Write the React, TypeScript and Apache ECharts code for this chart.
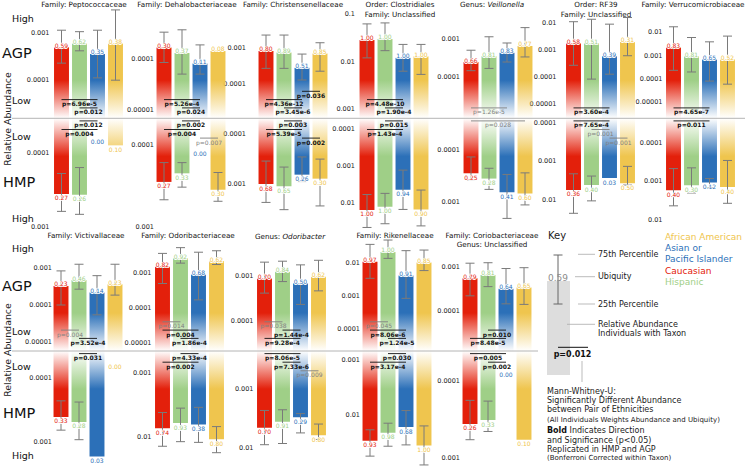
import React, { useEffect, useRef } from "react";
import * as echarts from "echarts";

const FONT = "DejaVu Sans";

const groups = ["Caucasian", "Hispanic", "Asian or Pacific Islander", "African American"];
const groupColors = ["#e3200b", "#9fcf87", "#2c70b8", "#efc54e"];

const titles: string[][] = [
  ["Family: Peptococcaceae"],
  ["Family: Dehalobacteriaceae"],
  ["Family: Christensenellaceae"],
  ["Order: Clostridiales", "Family: Unclassified"],
  ["Genus: Veillonella"],
  ["Order: RF39", "Family: Unclassified"],
  ["Family: Verrucomicrobiaceae"],
  ["Family: Victivallaceae"],
  ["Family: Odoribacteriaceae"],
  ["Genus: Odoribacter"],
  ["Family: Rikenellaceae"],
  ["Family: Coriobacteriaceae", "Genus: Unclassified"],
];

// AGP cohort (median, 25th, 75th percentile relative abundance, ubiquity)
const agpMedian = [
  [5.0e-4, 6.0e-4, 3.6e-4, 6.0e-4],
  [1.74e-4, 1.35e-4, 8.3e-5, 1.48e-4],
  [8.5e-4, 7.6e-4, 2.8e-4, 7.2e-4],
  [2.86e-2, 3.0e-2, 1.2e-2, 1.29e-2],
  [2.5e-4, 3.55e-4, 4.4e-4, 6.6e-4],
  [1.78e-3, 1.78e-3, 6.0e-4, 2.0e-3],
  [2.2e-3, 9.3e-4, 6.8e-4, 6.8e-4],
  [3.3e-4, 4.8e-4, 2.2e-4, 3.7e-4],
  [1.55e-3, 2.7e-3, 9.3e-4, 2.24e-3],
  [8.7e-4, 1.23e-3, 6.8e-4, 9.5e-4],
  [1.07e-2, 2.1e-2, 4.1e-3, 1.02e-2],
  [5.5e-4, 6.5e-4, 3.2e-4, 3.4e-4],
];
const agpQ25 = [
  [2.3e-4, 4.2e-4, 1.12e-4, 1.0e-4],
  [8.7e-5, 5.1e-5, 5.1e-5, null],
  [2.7e-4, 2.7e-4, 1.26e-4, 2.24e-4],
  [1.2e-2, 1.7e-2, 6.3e-3, 5.4e-3],
  [1.48e-4, 1.7e-4, 2.5e-4, 3.4e-4],
  [2.75e-4, 8.5e-5, 1.29e-4, 6.2e-4],
  [2.3e-4, 1.95e-4, 7.9e-5, 5.8e-5],
  [1.0e-4, 2.7e-4, 5.4e-5, 1.86e-4],
  [5.1e-4, 1.95e-3, 1.74e-4, 1.78e-3],
  [4.1e-4, 7.4e-4, 2.3e-4, 4.6e-4],
  [3.4e-3, 1.35e-2, 8.5e-4, 5.8e-3],
  [2.2e-4, 3.55e-4, 1.45e-4, 1.41e-4],
];
const agpQ75 = [
  [1.15e-3, 1.07e-3, 1.15e-3, 3.1e-3],
  [3.5e-4, 3.9e-4, 1.95e-4, null],
  [2.4e-3, 2.4e-3, 6.9e-4, 1.45e-3],
  [6.2e-2, 6.5e-2, 2.3e-2, 2.3e-2],
  [5.1e-4, 1.15e-3, 7.9e-4, 2.0e-3],
  [1.12e-2, 1.38e-2, 9.1e-3, 1.6e-2],
  [1.74e-2, 6.0e-3, 3.9e-3, 6.9e-3],
  [8.5e-4, 1.29e-3, 6.3e-4, 1.29e-3],
  [3.7e-3, 5.4e-3, 4.0e-3, 4.4e-3],
  [2.0e-3, 2.1e-3, 1.74e-3, 2.2e-3],
  [3.55e-2, 4.8e-2, 2.3e-2, 2.4e-2],
  [1.2e-3, 1.23e-3, 9.1e-4, 9.5e-4],
];
const agpUbiquity = [
  [0.59, 0.62, 0.35, 0.38],
  [0.30, 0.37, 0.11, 0.08],
  [0.80, 0.89, 0.51, 0.85],
  [1.00, 1.00, 1.00, 1.00],
  [0.66, 0.81, 0.83, 0.77],
  [0.58, 0.51, 0.39, 0.31],
  [0.83, 0.81, 0.65, 0.52],
  [0.23, 0.46, 0.14, 0.23],
  [0.82, 0.92, 0.68, 0.62],
  [0.70, 0.84, 0.50, 0.62],
  [0.97, 1.00, 0.91, 0.85],
  [0.79, 0.81, 0.64, 0.65],
];

// HMP cohort
const hmpMedian = [
  [3.6e-4, 3.7e-4, 0, 7.9e-5],
  [2.85e-4, 2.24e-4, 0, 3.55e-4],
  [1.0e-3, 1.1e-3, 6.5e-4, 7.8e-4],
  [1.5e-2, 1.23e-2, 4.3e-3, 1.45e-2],
  [2.8e-4, 3.55e-4, 6.5e-4, 6.9e-4],
  [5.5e-3, 4.1e-3, 2.7e-3, 3.7e-3],
  [1.7e-3, 1.26e-3, 1.07e-3, 1.41e-3],
  [4.1e-4, 4.9e-4, 1.7e-3, 0],
  [7.2e-3, 6.0e-3, 6.3e-3, 1.07e-2],
  [4.5e-3, 3.55e-3, 3.0e-3, 6.0e-3],
  [2.95e-2, 2.1e-2, 1.66e-2, 3.6e-2],
  [3.6e-4, 3.2e-4, 0, 5.75e-4],
];
const hmpQ25 = [
  [1.9e-4, 1.58e-4, null, null],
  [1.66e-4, 1.66e-4, null, 2.19e-4],
  [3.5e-4, 4.6e-4, 2.9e-4, 3.2e-4],
  [5.8e-3, 5.4e-3, 1.29e-3, 4.4e-3],
  [1.35e-4, 2.24e-4, 2.95e-4, 2.75e-4],
  [2.1e-3, 2.4e-3, null, 1.35e-3],
  [4.7e-4, 4.5e-4, 8.5e-4, 2.9e-4],
  [2.3e-4, 2.4e-4, null, null],
  [4.1e-3, 3.5e-3, 3.4e-3, 6.8e-3],
  [2.3e-3, 2.24e-3, 2.6e-3, 3.9e-3],
  [1.86e-2, 1.41e-2, 8.3e-3, 1.58e-2],
  [1.78e-4, 1.82e-4, null, null],
];
const hmpQ75 = [
  [6.2e-4, 6.8e-4, null, null],
  [4.7e-4, 3.3e-4, null, 4.9e-4],
  [2.3e-3, 3.2e-3, 8.9e-4, 2.7e-3],
  [4.4e-2, 3.5e-2, 1.45e-2, 4.0e-2],
  [3.8e-4, 5.75e-4, 2.1e-3, 1.15e-3],
  [2.2e-2, 1.05e-2, null, 4.1e-3],
  [4.3e-3, 2.0e-3, 1.45e-3, 3.7e-3],
  [6.6e-4, 9.3e-4, null, null],
  [1.38e-2, 1.17e-2, 1.2e-2, 1.74e-2],
  [8.7e-3, 8.3e-3, 5.5e-3, 7.1e-3],
  [5.6e-2, 3.7e-2, 3.5e-2, 8.1e-2],
  [5.75e-4, 4.5e-4, null, null],
];
const hmpUbiquity = [
  [0.27, 0.26, 0.00, 0.10],
  [0.27, 0.33, 0.00, 0.30],
  [0.68, 0.65, 0.26, 0.30],
  [1.00, 1.00, 0.94, 0.90],
  [0.25, 0.28, 0.41, 0.60],
  [0.36, 0.40, 0.03, 0.50],
  [0.40, 0.30, 0.12, 0.40],
  [0.33, 0.28, 0.03, 0.00],
  [0.74, 0.93, 0.38, 0.80],
  [0.70, 0.91, 0.29, 0.80],
  [0.93, 0.98, 0.68, 1.00],
  [0.26, 0.33, 0.00, 0.10],
];

// Log-axis extents (exponents) and tick labels per panel
const agpRange = [
  [-4.809, -2.468], [-5.174, -2.974], [-4.991, -1.849], [-3.189, -0.874], [-5.079, -2.184], [-5.519, -1.444], [-5.71, -0.948],
  [-5.253, -2.229], [-5.22, -2.049], [-4.673, -2.207], [-4.652, -1.318], [-4.903, -2.397],
];
const hmpRange = [
  [-4.469, -2.928], [-4.319, -2.936], [-4.302, -2.053], [-4.275, -1.235], [-4.619, -2.414], [-4.111, -1.175], [-4.626, -1.691],
  [-4.417, -2.683], [-3.349, -1.614], [-3.641, -1.769], [-3.164, -1.145], [-4.388, -2.952],
];
const agpTicks = [
  [1e-3, 1e-4], [1e-4, 1e-5], [1e-3, 1e-4], [1e-1, 1e-2, 1e-3], [1e-3, 1e-4], [1e-2, 1e-3, 1e-4, 1e-5], [1e-2, 1e-3, 1e-4, 1e-5],
  [1e-3, 1e-4, 1e-5], [1e-3, 1e-4, 1e-5], [1e-3, 1e-4], [1e-2, 1e-3, 1e-4], [1e-3, 1e-4],
];
const hmpTicks = [
  [1e-4, 1e-3], [1e-4, 1e-3], [1e-4, 1e-3], [1e-4, 1e-3, 1e-2], [1e-4, 1e-3], [1e-4, 1e-3, 1e-2], [1e-4, 1e-3, 1e-2],
  [1e-4, 1e-3], [1e-3, 1e-2], [1e-3, 1e-2], [1e-3, 1e-2], [1e-4, 1e-3],
];

type Ann = { panel: number; cohort: "agp" | "hmp"; a: number; b: number; p: string; bold: boolean; level: number };
const pValues: Ann[] = [
  { panel: 0, cohort: "agp", a: 0, b: 2, p: "p=6.96e-5", bold: true, level: 1 },
  { panel: 0, cohort: "agp", a: 1, b: 2, p: "p=0.012", bold: true, level: 0 },
  { panel: 0, cohort: "hmp", a: 1, b: 2, p: "p=0.012", bold: true, level: 0 },
  { panel: 0, cohort: "hmp", a: 0, b: 2, p: "p=0.004", bold: true, level: 1 },
  { panel: 1, cohort: "agp", a: 0, b: 2, p: "p=5.26e-4", bold: true, level: 1 },
  { panel: 1, cohort: "agp", a: 1, b: 2, p: "p=0.024", bold: true, level: 0 },
  { panel: 1, cohort: "hmp", a: 1, b: 2, p: "p=0.002", bold: true, level: 0 },
  { panel: 1, cohort: "hmp", a: 0, b: 2, p: "p=0.004", bold: true, level: 1 },
  { panel: 1, cohort: "hmp", a: 2, b: 3, p: "p=0.007", bold: false, level: 2 },
  { panel: 2, cohort: "agp", a: 2, b: 3, p: "p=0.036", bold: true, level: 2 },
  { panel: 2, cohort: "agp", a: 0, b: 2, p: "p=4.36e-12", bold: true, level: 1 },
  { panel: 2, cohort: "agp", a: 1, b: 2, p: "p=3.45e-6", bold: true, level: 0 },
  { panel: 2, cohort: "hmp", a: 1, b: 2, p: "p=0.003", bold: true, level: 0 },
  { panel: 2, cohort: "hmp", a: 0, b: 2, p: "p=5.39e-5", bold: true, level: 1 },
  { panel: 2, cohort: "hmp", a: 2, b: 3, p: "p=0.002", bold: true, level: 2 },
  { panel: 3, cohort: "agp", a: 0, b: 2, p: "p=4.48e-10", bold: true, level: 1 },
  { panel: 3, cohort: "agp", a: 1, b: 2, p: "p=1.90e-4", bold: true, level: 0 },
  { panel: 3, cohort: "hmp", a: 1, b: 2, p: "p=0.015", bold: true, level: 0 },
  { panel: 3, cohort: "hmp", a: 0, b: 2, p: "p=1.43e-4", bold: true, level: 1 },
  { panel: 4, cohort: "agp", a: 0, b: 2, p: "p=1.26e-5", bold: false, level: 0 },
  { panel: 4, cohort: "hmp", a: 0, b: 3, p: "p=0.028", bold: false, level: 0 },
  { panel: 5, cohort: "agp", a: 0, b: 2, p: "p=3.60e-4", bold: true, level: 0 },
  { panel: 5, cohort: "hmp", a: 0, b: 2, p: "p=7.65e-4", bold: true, level: 0 },
  { panel: 5, cohort: "hmp", a: 1, b: 2, p: "p=0.001", bold: false, level: 1 },
  { panel: 5, cohort: "hmp", a: 2, b: 3, p: "p=0.001", bold: false, level: 2 },
  { panel: 6, cohort: "agp", a: 0, b: 2, p: "p=4.65e-7", bold: true, level: 0 },
  { panel: 6, cohort: "hmp", a: 0, b: 2, p: "p=0.011", bold: true, level: 0 },
  { panel: 7, cohort: "agp", a: 0, b: 1, p: "p=0.004", bold: false, level: 1 },
  { panel: 7, cohort: "agp", a: 1, b: 2, p: "p=3.52e-4", bold: true, level: 0 },
  { panel: 7, cohort: "hmp", a: 1, b: 2, p: "p=0.031", bold: true, level: 0 },
  { panel: 8, cohort: "agp", a: 0, b: 1, p: "p=0.014", bold: false, level: 2 },
  { panel: 8, cohort: "agp", a: 0, b: 2, p: "p=0.004", bold: true, level: 1 },
  { panel: 8, cohort: "agp", a: 1, b: 2, p: "p=1.86e-4", bold: true, level: 0 },
  { panel: 8, cohort: "hmp", a: 1, b: 2, p: "p=4.33e-4", bold: true, level: 0 },
  { panel: 8, cohort: "hmp", a: 0, b: 2, p: "p=0.002", bold: true, level: 1 },
  { panel: 9, cohort: "agp", a: 0, b: 1, p: "p=0.038", bold: false, level: 2 },
  { panel: 9, cohort: "agp", a: 1, b: 2, p: "p=1.44e-4", bold: true, level: 1 },
  { panel: 9, cohort: "agp", a: 0, b: 2, p: "p=9.28e-4", bold: true, level: 0 },
  { panel: 9, cohort: "hmp", a: 0, b: 2, p: "p=8.06e-5", bold: true, level: 0 },
  { panel: 9, cohort: "hmp", a: 1, b: 2, p: "p=7.33e-6", bold: true, level: 1 },
  { panel: 9, cohort: "hmp", a: 2, b: 3, p: "p=0.009", bold: false, level: 2 },
  { panel: 10, cohort: "agp", a: 0, b: 1, p: "p=0.045", bold: false, level: 2 },
  { panel: 10, cohort: "agp", a: 0, b: 2, p: "p=8.06e-6", bold: true, level: 1 },
  { panel: 10, cohort: "agp", a: 1, b: 2, p: "p=1.24e-5", bold: true, level: 0 },
  { panel: 10, cohort: "hmp", a: 1, b: 2, p: "p=0.030", bold: true, level: 0 },
  { panel: 10, cohort: "hmp", a: 0, b: 2, p: "p=3.17e-4", bold: true, level: 1 },
  { panel: 11, cohort: "agp", a: 1, b: 2, p: "p=0.010", bold: true, level: 1 },
  { panel: 11, cohort: "agp", a: 0, b: 2, p: "p=8.48e-5", bold: true, level: 0 },
  { panel: 11, cohort: "hmp", a: 0, b: 2, p: "p=0.005", bold: true, level: 0 },
  { panel: 11, cohort: "hmp", a: 1, b: 2, p: "p=0.002", bold: true, level: 1 },
];

const legendLines = [
  { text: "African American", group: 3 },
  { text: "Asian or", group: 2 },
  { text: "Pacific Islander", group: 2 },
  { text: "Caucasian", group: 0 },
  { text: "Hispanic", group: 1 },
];

// ---------- layout ----------
const panelLeft = [52.5, 155, 257, 358, 462, 564.5, 664.5, 52, 153.5, 255.5, 361, 461];
const labelMargin = [3, 1, 11, 3, 2, 8, 2, 0, 2, 2, 1, 1];
const titleCenter = [84, 187, 293, 400, 492, 596, 693, 86, 188, 290, 395, 492];
const zeroLabelOffset = [23.4, 35, 23, 23, 23, 23, 23, 15.7, 23, 23, 23, 23.3];
const rows = [
  { top: 8, mid: 118.3, bottom: 232, titleY: 4.5 },
  { top: 240, mid: 351, bottom: 462, titleY: 235 },
];
const FADE = 38;

function rgba(hex: string, a: number) {
  const n = parseInt(hex.slice(1), 16);
  return `rgba(${(n >> 16) & 255},${(n >> 8) & 255},${n & 255},${a})`;
}
function fmtTick(v: number) {
  const e = Math.round(Math.log10(v));
  return e >= 0 ? String(Math.pow(10, e)) : Math.pow(10, e).toFixed(-e);
}
const txt = (x: number, y: number, text: string, o: any = {}) => ({
  type: "text",
  x,
  y,
  silent: true,
  rotation: o.rotation || 0,
  style: {
    text,
    fill: o.fill || "#222",
    fontSize: o.size || 8,
    fontFamily: FONT,
    fontWeight: o.weight || "normal",
    fontStyle: o.style || "normal",
    align: o.align || "left",
    textAlign: o.align || "left",
    verticalAlign: "middle",
    textVerticalAlign: "middle",
    rich: o.rich,
  },
});
const ln = (x1: number, y1: number, x2: number, y2: number, stroke = "#aaa", lineWidth = 0.8) => ({
  type: "line",
  silent: true,
  shape: { x1, y1, x2, y2 },
  style: { stroke, lineWidth },
});

function barRenderer(agp: boolean, ref: number, zeroOffset: number) {
  return (params: any, api: any) => {
    const cs = params.coordSys;
    const idx = api.value(0);
    const med = api.value(1);
    const q25 = api.value(2);
    const q75 = api.value(3);
    const ubiq = api.value(4);
    const color = groupColors[idx];
    const cx = api.coord([idx, ref])[0];
    const bw = api.size([1, 0])[0] * 0.83;
    const base = agp ? cs.y + cs.height : cs.y;
    const children: any[] = [];
    const label = (y: number) => ({
      type: "text",
      x: cx,
      y,
      z2: 10,
      style: {
        text: ubiq.toFixed(2),
        fill: color,
        stroke: "#fff",
        lineWidth: 1.6,
        strokeFirst: true,
        fontSize: 6,
        fontFamily: FONT,
        align: "center",
        textAlign: "center",
        verticalAlign: "middle",
        textVerticalAlign: "middle",
      },
    });
    if (med > 0) {
      const yEnd = api.coord([idx, med])[1];
      const h = Math.abs(yEnd - base);
      const solid = rgba(color, 1);
      const clear = rgba(color, 0);
      let stops;
      if (agp) {
        stops = h > FADE
          ? [{ offset: 0, color: solid }, { offset: 1 - FADE / h, color: solid }, { offset: 1, color: clear }]
          : [{ offset: 0, color: rgba(color, h / FADE) }, { offset: 1, color: clear }];
      } else {
        stops = h > FADE
          ? [{ offset: 0, color: clear }, { offset: FADE / h, color: solid }, { offset: 1, color: solid }]
          : [{ offset: 0, color: clear }, { offset: 1, color: rgba(color, h / FADE) }];
      }
      children.push({
        type: "rect",
        shape: { x: cx - bw / 2, y: Math.min(yEnd, base), width: bw, height: h },
        style: { fill: { type: "linear", x: 0, y: 0, x2: 0, y2: 1, colorStops: stops } },
      });
      if (q25 > 0 && q75 > 0) {
        const ya = api.coord([idx, q25])[1];
        const yb = api.coord([idx, q75])[1];
        const st = { stroke: "#7a7a7a", lineWidth: 1 };
        children.push({ type: "line", shape: { x1: cx, y1: ya, x2: cx, y2: yb }, style: st });
        children.push({ type: "line", shape: { x1: cx - 4.5, y1: ya, x2: cx + 4.5, y2: ya }, style: st });
        children.push({ type: "line", shape: { x1: cx - 4.5, y1: yb, x2: cx + 4.5, y2: yb }, style: st });
      }
      children.push(label(agp ? yEnd - 2 : yEnd + 4));
    } else {
      children.push(label(agp ? base - zeroOffset : base + zeroOffset));
    }
    return { type: "group", children };
  };
}

function annRenderer(agp: boolean, row: number, list: Ann[], ref: number) {
  return (params: any, api: any) => {
    const cs = params.coordSys;
    const ann = list[params.dataIndex];
    const xa = api.coord([api.value(0), ref])[0];
    const xb = api.coord([api.value(1), ref])[0];
    const base = agp ? cs.y + cs.height : cs.y;
    const ty = agp ? base - (row === 0 ? 6.4 : 8.6) - 8.3 * ann.level : base + 6.6 + 8.6 * ann.level;
    const col = ann.bold ? "#111" : "#808080";
    return {
      type: "group",
      children: [
        { type: "line", shape: { x1: xa, y1: ty - 4, x2: xb, y2: ty - 4 }, style: { stroke: col, lineWidth: 0.9 } },
        {
          type: "text",
          x: (xa + xb) / 2,
          y: ty,
          style: {
            text: ann.p,
            fill: col,
            fontSize: 6,
            fontFamily: FONT,
            fontWeight: ann.bold ? "bold" : "normal",
            align: "center",
            textAlign: "center",
            verticalAlign: "middle",
            textVerticalAlign: "middle",
          },
        },
      ],
    };
  };
}

const TITLE_SIZE = 7.2;
function titleText(line: string) {
  const m = line.match(/^Genus: (.+)$/);
  if (m && m[1] !== "Unclassified") {
    return {
      text: `{n|Genus: }{i|${m[1]}}`,
      rich: {
        n: { fontSize: TITLE_SIZE, fontFamily: FONT, fill: "#111" },
        i: { fontSize: TITLE_SIZE, fontFamily: FONT, fontStyle: "italic", fill: "#111" },
      },
    };
  }
  return { text: line, rich: undefined };
}

function buildOption() {
  const grid: any[] = [];
  const xAxis: any[] = [];
  const yAxis: any[] = [];
  const series: any[] = [];
  const graphic: any[] = [];

  for (let k = 0; k < titles.length; k++) {
    const row = k < 7 ? 0 : 1;
    const r = rows[row];
    [true, false].forEach((agp) => {
      const g = grid.length;
      const range = agp ? agpRange[k] : hmpRange[k];
      const ref = Math.pow(10, range[0]);
      grid.push({
        left: panelLeft[k],
        top: agp ? r.top : r.mid,
        width: 72,
        height: agp ? r.mid - r.top : r.bottom - r.mid,
        outerBoundsMode: "none",
      });
      xAxis.push({ gridIndex: g, type: "category", data: groups, show: false });
      yAxis.push({
        gridIndex: g,
        type: "log",
        logBase: 10,
        min: ref,
        max: Math.pow(10, range[1]),
        inverse: !agp,
        axisLine: { show: false },
        axisTick: { show: false },
        splitLine: { show: false },
        axisLabel: {
          customValues: agp ? agpTicks[k] : hmpTicks[k],
          formatter: fmtTick,
          fontSize: 6.5,
          color: "#222222",
          fontFamily: FONT,
          margin: labelMargin[k],
        },
      });
      const med = agp ? agpMedian[k] : hmpMedian[k];
      const q25 = agp ? agpQ25[k] : hmpQ25[k];
      const q75 = agp ? agpQ75[k] : hmpQ75[k];
      const ub = agp ? agpUbiquity[k] : hmpUbiquity[k];
      series.push({
        type: "custom",
        xAxisIndex: g,
        yAxisIndex: g,
        silent: true,
        z: 3,
        data: med.map((m, i) => [i, m > 0 ? m : null, q25[i], q75[i], ub[i]]),
        renderItem: barRenderer(agp, ref, zeroLabelOffset[k]),
      });
      const list = pValues.filter((p) => p.panel === k && p.cohort === (agp ? "agp" : "hmp"));
      if (list.length) {
        series.push({
          type: "custom",
          xAxisIndex: g,
          yAxisIndex: g,
          silent: true,
          z: 5,
          data: list.map((p) => [p.a, p.b]),
          renderItem: annRenderer(agp, row, list, ref),
        });
      }
    });
    // title
    titles[k].forEach((line, li) => {
      const t = titleText(line);
      const dy = row === 1 && titles[k].length === 1 && line.startsWith("Genus") ? 1 : 0;
      graphic.push(txt(titleCenter[k], r.titleY + li * 9.5 + dy, t.text, { size: TITLE_SIZE, fill: "#111", align: "center", rich: t.rich }));
    });
  }

  // midlines
  graphic.push(ln(12, 118.3, 745, 118.3, "#b4b4b4", 1));
  graphic.push(ln(12, 351, 538, 351, "#b4b4b4", 1));

  // row side labels
  const side = [
    { high: 18.3, agp: 53, low1: 100, low2: 136, hmp: 181.7, high2: 218, mid: 119 },
    { high: 248.3, agp: 285.7, low1: 331, low2: 366, hmp: 413, high2: 455, mid: 350 },
  ];
  side.forEach((s) => {
    graphic.push(txt(12, s.high, "High", { size: 9.5, fill: "#111" }));
    graphic.push(txt(2, s.agp, "AGP", { size: 14.5, fill: "#111" }));
    graphic.push(txt(12, s.low1, "Low", { size: 9.5, fill: "#111" }));
    graphic.push(txt(12, s.low2, "Low", { size: 9.5, fill: "#111" }));
    graphic.push(txt(3, s.hmp, "HMP", { size: 14.5, fill: "#111" }));
    graphic.push(txt(12, s.high2, "High", { size: 9.5, fill: "#111" }));
    graphic.push(txt(7.5, s.mid, "Relative Abundance", { size: 9.4, fill: "#222", align: "center", rotation: Math.PI / 2 }));
  });

  // key
  graphic.push(txt(548, 235, "Key", { size: 10 }));
  graphic.push({ type: "rect", silent: true, shape: { x: 547, y: 281, width: 23, height: 94 }, style: { fill: "#dddddd" } });
  graphic.push(ln(558, 255, 558, 304, "#666", 1));
  graphic.push(ln(553.5, 255, 562.5, 255, "#666", 1));
  graphic.push(ln(553.5, 304, 562.5, 304, "#666", 1));
  graphic.push(txt(558, 277.7, "0.59", { size: 9, fill: "#8c8c8c", align: "center" }));
  graphic.push(ln(578, 254.3, 595, 254.3));
  graphic.push(ln(575, 276.7, 595, 276.7));
  graphic.push(ln(578, 304, 595, 304));
  graphic.push(ln(567, 324.3, 595, 324.3));
  graphic.push(ln(582, 361, 582, 382));
  graphic.push(txt(598, 254.3, "75th Percentile"));
  graphic.push(txt(598, 276.7, "Ubiquity"));
  graphic.push(txt(598, 304, "25th Percentile"));
  graphic.push(txt(598, 324.3, "Relative Abundance"));
  graphic.push(txt(598, 333.3, "Individuals with Taxon"));
  graphic.push(ln(558, 347.3, 588, 347.3, "#111", 1));
  graphic.push(txt(572.5, 354, "p=0.012", { size: 8, weight: "bold", align: "center", fill: "#111" }));
  const legY = [236.7, 248.3, 259.3, 270.7, 281.7];
  legendLines.forEach((l, i) => graphic.push(txt(665, legY[i], l.text, { size: 9, fill: groupColors[l.group] })));
  const notes = [
    { y: 391.7, t: "Mann-Whitney-U:", s: 8 },
    { y: 400.7, t: "Significantly Different Abundance", s: 8 },
    { y: 409.6, t: "between Pair of Ethnicities", s: 8 },
    { y: 420, t: "(All Individuals Weights Abundance and Ubiquity)", s: 7 },
    { y: 440, t: "and Significance (p<0.05)", s: 8 },
    { y: 449.3, t: "Replicated in HMP and AGP", s: 8 },
    { y: 458.3, t: "(Bonferroni Corrected within Taxon)", s: 7 },
  ];
  notes.forEach((n) => graphic.push(txt(547, n.y, n.t, { size: n.s })));
  graphic.push(
    txt(547, 430.7, "{b|Bold}{n| Indicates Direction}", {
      size: 8,
      rich: {
        b: { fontSize: 8, fontFamily: FONT, fontWeight: "bold", fill: "#111" },
        n: { fontSize: 8, fontFamily: FONT, fill: "#222" },
      },
    })
  );

  return {
    animation: false,
    backgroundColor: "#ffffff",
    grid,
    xAxis,
    yAxis,
    series,
    graphic: { elements: graphic },
  };
}

export default function App() {
  const ref = useRef<HTMLDivElement>(null);
  useEffect(() => {
    document.body.style.margin = "0";
    const chart = echarts.init(ref.current!, null, { renderer: "svg" });
    chart.setOption(buildOption() as any);
    return () => chart.dispose();
  }, []);
  return <div ref={ref} style={{ width: 745, height: 466 }} />;
}
